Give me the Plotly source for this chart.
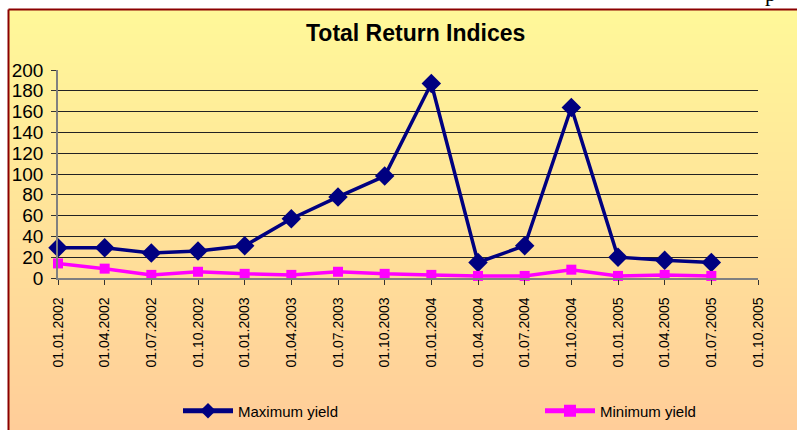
import base64, struct, zlib
import plotly.graph_objects as go

# ---- data ----
categories = ["01.01.2002", "01.04.2002", "01.07.2002", "01.10.2002",
              "01.01.2003", "01.04.2003", "01.07.2003", "01.10.2003",
              "01.01.2004", "01.04.2004", "01.07.2004", "01.10.2004",
              "01.01.2005", "01.04.2005", "01.07.2005", "01.10.2005"]
max_yield = [29, 29, 24, 26, 31, 57, 78, 98, 187, 15, 31, 164, 20, 17, 15]
min_yield = [14, 9, 3, 6, 4, 3, 6, 4, 3, 2, 2, 8, 2, 3, 2]
y_ticks = [0, 20, 40, 60, 80, 100, 120, 140, 160, 180, 200]

W, H = 797, 430


def gradient_png(h, top, bottom):
    rows = b""
    for i in range(h):
        t = i / (h - 1)
        c = bytes(int(round(top[k] + (bottom[k] - top[k]) * t)) for k in range(3))
        rows += b"\x00" + c

    def chunk(tag, data):
        return (struct.pack(">I", len(data)) + tag + data +
                struct.pack(">I", zlib.crc32(tag + data) & 0xffffffff))

    png = b"\x89PNG\r\n\x1a\n"
    png += chunk(b"IHDR", struct.pack(">IIBBBBB", 1, h, 8, 2, 0, 0, 0))
    png += chunk(b"IDAT", zlib.compress(rows))
    png += chunk(b"IEND", b"")
    return "data:image/png;base64," + base64.b64encode(png).decode()


bg = gradient_png(256, (255, 248, 153), (255, 204, 153))

xs = list(range(len(categories)))

fig = go.Figure()
fig.add_trace(go.Scatter(
    x=xs[:len(max_yield)], y=max_yield, name="Maximum yield", mode="lines+markers",
    line=dict(color="#000080", width=3.5),
    marker=dict(symbol="diamond", size=15, color="#000080"),
    cliponaxis=False, legend="legend", showlegend=True))
fig.add_trace(go.Scatter(
    x=xs[:len(min_yield)], y=min_yield, name="Minimum yield", mode="lines+markers",
    line=dict(color="#FF00FF", width=3.5),
    marker=dict(symbol="square", size=10, color="#FF00FF"),
    cliponaxis=False, legend="legend2", showlegend=True))

fig.update_layout(
    width=W, height=H,
    margin=dict(l=0, r=0, t=0, b=0, autoexpand=False),
    paper_bgcolor="white",
    plot_bgcolor="rgba(0,0,0,0)",
    showlegend=True,
    font=dict(family="Liberation Sans, Arial, sans-serif", color="black"),
    images=[dict(source=bg, xref="paper", yref="paper",
                 x=9 / W, y=1 - 10 / H, sizex=1, sizey=1,
                 xanchor="left", yanchor="top", sizing="stretch", layer="below")],
    shapes=[
        dict(type="line", xref="paper", yref="paper", x0=8.5 / W, x1=8.5 / W,
             y0=-0.05, y1=1 - 9.5 / H, line=dict(color="#8B0000", width=2)),
        dict(type="line", xref="paper", yref="paper", x0=8.5 / W, x1=1.05,
             y0=1 - 9.5 / H, y1=1 - 9.5 / H, line=dict(color="#8B0000", width=2)),
    ],
    annotations=[
        dict(text="<b>Total Return Indices</b>", xref="paper", yref="paper",
             x=415 / W, y=1 - 33 / H, xanchor="center", yanchor="middle",
             showarrow=False, font=dict(size=23, family="Liberation Sans, Arial")),
        dict(text="p", xref="paper", yref="paper", x=770 / W, y=1 - 8 / H,
             xanchor="center", yanchor="bottom", showarrow=False,
             font=dict(size=22, family="Liberation Serif, Times New Roman")),
    ],
    xaxis=dict(domain=[58 / W, 758 / W], range=[0, 15], automargin=False,
               tickmode="array", tickvals=xs, ticktext=categories,
               tickangle=-90, tickfont=dict(size=14),
               ticks="outside", ticklen=5, tickcolor="#333",
               showline=True, linecolor="#808080", linewidth=1.5,
               showgrid=False, zeroline=False, ticklabelstandoff=7),
    yaxis=dict(domain=[1 - 278 / H, 1 - 70 / H], range=[0, 200], automargin=False,
               tickmode="array", tickvals=y_ticks,
               tickfont=dict(size=19),
               ticks="outside", ticklen=5, tickcolor="#333",
               showline=True, linecolor="#808080", linewidth=1.5,
               showgrid=True, gridcolor="#222", gridwidth=1,
               zeroline=False, ticklabelstandoff=4),
    legend=dict(orientation="h", x=178 / W, y=1 - 411 / H, xanchor="left",
                yanchor="middle", bgcolor="rgba(0,0,0,0)", itemsizing="constant",
                font=dict(size=15), itemwidth=50),
    legend2=dict(orientation="h", x=540 / W, y=1 - 411 / H, xanchor="left",
                 yanchor="middle", bgcolor="rgba(0,0,0,0)", itemsizing="constant",
                 font=dict(size=15), itemwidth=50),
)

fig.write_html("out.html", config={"displayModeBar": False},
               post_script="document.body.style.margin='0';")
